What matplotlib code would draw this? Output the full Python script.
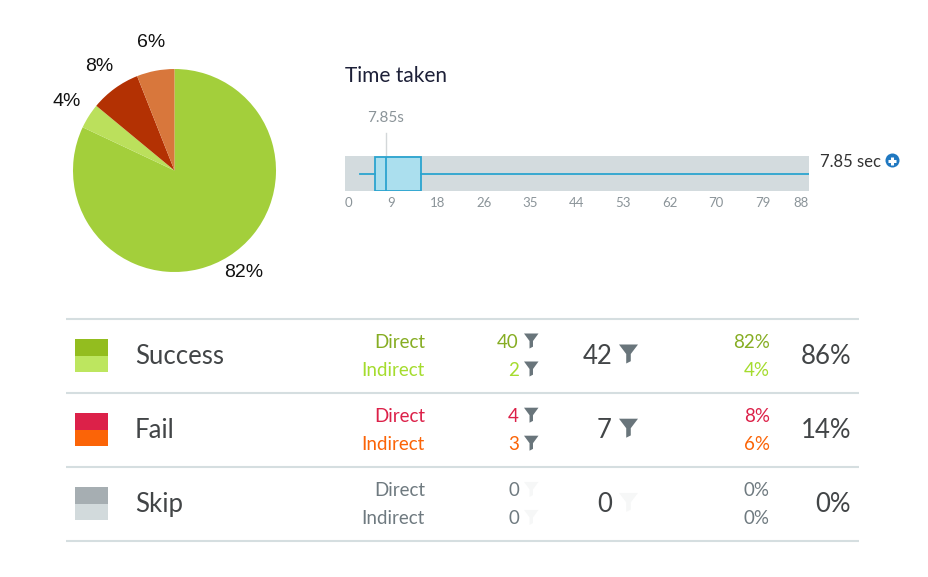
import matplotlib
matplotlib.use('Agg')
import matplotlib.pyplot as plt
from matplotlib.patches import Polygon, Rectangle, Circle
import numpy as np

W, H = 929, 577

# pie
pie_values = [82, 4, 8, 6]
pie_labels = ['82%', '4%', '8%', '6%']
pie_colors = ['#a3cf3b', '#bbe05c', '#b33103', '#d8773c']

# time taken
time_ticks = [0, 8.8, 17.6, 26.4, 35.2, 44, 52.8, 61.6, 70.4, 79.2, 88]
time_tick_labels = ['0', '9', '18', '26', '35', '44', '53', '62', '70', '79', '88']
time_median = 7.85
time_q1 = 5.7
time_q3 = 14.4
time_low = 2.8
time_high = 88

# table
groups = ['Success', 'Fail', 'Skip']
direct_counts = [40, 4, 0]
indirect_counts = [2, 3, 0]
group_counts = [42, 7, 0]
direct_pct = ['82%', '8%', '0%']
indirect_pct = ['4%', '6%', '0%']
group_pct = ['86%', '14%', '0%']
direct_colors = ['#86ad23', '#dc2149', '#6f7a80']
indirect_colors = ['#a5dc2e', '#fb6407', '#6f7a80']
swatch_top = ['#93bd1f', '#dc2149', '#a6aeb2']
swatch_bottom = ['#bde65f', '#fb6407', '#d2dadc']
funnel_colors = ['#69757b', '#69757b', '#f6f7f7']

FONT = 'Lato'
DARK = '#424547'


def to_fig(x, y, w, h):
    return [x / W, 1 - (y + h) / H, w / W, h / H]


def funnel(ax, x, y, w, h, color):
    # x, y is the top left corner, in pixels
    pts = [(x, y), (x + w, y), (x + w * 0.62, y + h * 0.5), (x + w * 0.62, y + h * 0.88),
           (x + w * 0.38, y + h), (x + w * 0.38, y + h * 0.5)]
    ax.add_patch(Polygon(pts, closed=True, facecolor=color, edgecolor='none'))


fig = plt.figure(figsize=(W / 100, H / 100), dpi=100, facecolor='white')

# whole figure in pixels for the table
bg = fig.add_axes([0, 0, 1, 1])
bg.set_xlim(0, W)
bg.set_ylim(H, 0)
bg.axis('off')

for y in [318.5, 392.5, 466.5, 541]:
    bg.plot([66, 859], [y, y], color='#d5dee0', lw=1.5, solid_capstyle='butt')

for i, name in enumerate(groups):
    dy = 74.2 * i
    bg.add_patch(Rectangle((75, 339 + dy), 33, 16.5, facecolor=swatch_top[i], edgecolor='none'))
    bg.add_patch(Rectangle((75, 355.5 + dy), 33, 16.5, facecolor=swatch_bottom[i], edgecolor='none'))
    bg.text(135, 354 + dy, name, fontsize=18.5, color=DARK, family=FONT, va='center_baseline')

    bg.text(425, 341 + dy, 'Direct', fontsize=13.5, color=direct_colors[i], family=FONT, ha='right', va='center_baseline')
    bg.text(425, 369 + dy, 'Indirect', fontsize=13.5, color=indirect_colors[i], family=FONT, ha='right', va='center_baseline')

    bg.text(519, 341 + dy, str(direct_counts[i]), fontsize=13.5, color=direct_colors[i], family=FONT, ha='right', va='center_baseline')
    bg.text(519, 369 + dy, str(indirect_counts[i]), fontsize=13.5, color=indirect_colors[i], family=FONT, ha='right', va='center_baseline')
    funnel(bg, 524, 333.5 + dy, 14.5, 15, funnel_colors[i])
    funnel(bg, 524, 361.5 + dy, 14.5, 15, funnel_colors[i])

    bg.text(612, 354 + dy, str(group_counts[i]), fontsize=18.5, color=DARK, family=FONT, ha='right', va='center_baseline')
    funnel(bg, 619, 344.5 + dy, 19, 19, funnel_colors[i])

    bg.text(770, 341 + dy, direct_pct[i], fontsize=13.5, color=direct_colors[i], family=FONT, ha='right', va='center_baseline')
    bg.text(770, 369 + dy, indirect_pct[i], fontsize=13.5, color=indirect_colors[i], family=FONT, ha='right', va='center_baseline')
    bg.text(851, 354 + dy, group_pct[i], fontsize=18.5, color=DARK, family=FONT, ha='right', va='center_baseline')

# time taken heading and value
bg.text(345, 74.5, 'Time taken', fontsize=15, color='#1d2038', family=FONT, va='center_baseline')
bg.text(820, 160.5, '7.85 sec', fontsize=12, color='#333333', family=FONT, va='center_baseline')
bg.add_patch(Circle((892.5, 160.5), 7, facecolor='#1f78c1', edgecolor='none'))
bg.plot([888.5, 896.5], [160.5, 160.5], color='white', lw=2.2, solid_capstyle='butt')
bg.plot([892.5, 892.5], [156.5, 164.5], color='white', lw=2.2, solid_capstyle='butt')

# pie
ax = fig.add_axes(to_fig(73, 69, 203, 203))
wedges, _ = ax.pie(pie_values, colors=pie_colors, startangle=90, counterclock=False, radius=1)
ax.set_xlim(-1, 1)
ax.set_ylim(-1, 1)
ax.set_aspect('equal')
label_dist = [1.19, 1.27, 1.27, 1.28]
label_shift = [0.04, 0.01, 0.01, 0.01]
for w, lab, d, sh in zip(wedges, pie_labels, label_dist, label_shift):
    ang = np.deg2rad((w.theta1 + w.theta2) / 2)
    ax.text(d * np.cos(ang) + sh, d * np.sin(ang), lab, fontsize=14, color='#111111',
            family='Liberation Sans', ha='center', va='center')

# box strip
bx = fig.add_axes(to_fig(345, 156.5, 464, 34.5))
bx.set_facecolor('#d3dbde')
stats = [{'med': time_median, 'q1': time_q1, 'q3': time_q3, 'whislo': time_low, 'whishi': time_high, 'fliers': []}]
bx.bxp(stats, positions=[0.5], widths=[0.98], orientation='horizontal', showcaps=False, showfliers=False,
       patch_artist=True, manage_ticks=False,
       boxprops=dict(facecolor='#abdfee', edgecolor='#2ba4cf', linewidth=1.3),
       medianprops=dict(color='#2ba4cf', linewidth=1.3),
       whiskerprops=dict(color='#2ba4cf', linewidth=1.3))
bx.set_xlim(0, 88)
bx.set_ylim(0, 1)
for s in bx.spines.values():
    s.set_visible(False)
bx.set_yticks([])
bx.set_xticks(time_ticks)
bx.set_xticklabels(time_tick_labels, fontsize=9.5, color='#8b9499', family=FONT)
bx.tick_params(axis='x', length=0, pad=4.5)
labs = bx.get_xticklabels()
labs[0].set_ha('left')
labs[0].set_x(0.6)
labs[-1].set_ha('right')

# marker above the strip
bg.plot([386, 386], [133, 157], color='#d3d7d9', lw=1)
bg.text(386, 117, '%.2fs' % time_median, fontsize=11, color='#8b9499', family=FONT, ha='center', va='center_baseline')

fig.savefig('out.png', dpi=100, facecolor='white')
